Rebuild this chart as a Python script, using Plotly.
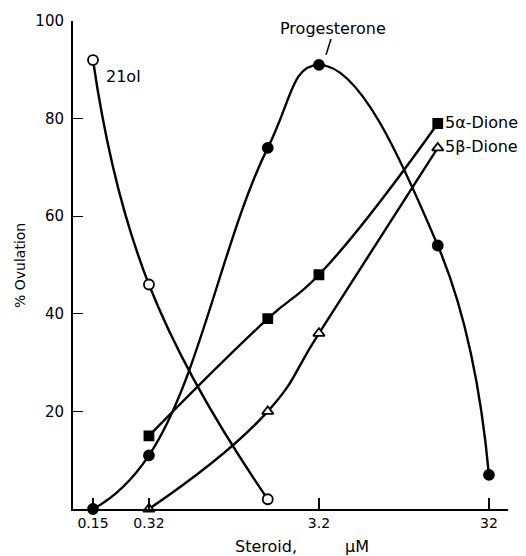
import math
import plotly.graph_objects as go

# ---- data ----
ol21_x = [0.15, 0.32, 1.6]
ol21_y = [92, 46, 2]

prog_x = [0.15, 0.32, 1.6, 3.2, 16, 32]
prog_y = [0, 11, 74, 91, 54, 7]

a_dione_x = [0.32, 1.6, 3.2, 16]
a_dione_y = [15, 39, 48, 79]

b_dione_x = [0.32, 1.6, 3.2, 16]
b_dione_y = [0, 20, 36, 74]

x_ticks = [0.15, 0.32, 3.2, 32]
x_tick_labels = ["0.15", "0.32", "3.2", "32"]
y_ticks = [20, 40, 60, 80, 100]

W, H = 526, 556
L, R, T, B = 73, 18, 19, 47
PW, PH = W - L - R, H - T - B


def px(xp):
    return (xp - L) / PW


def py(yp):
    return (H - B - yp) / PH


FONT = "DejaVu Sans, sans-serif"
LW = 2.4

fig = go.Figure()

def add_series(x, y, symbol, fill, size):
    fig.add_trace(go.Scatter(
        x=x, y=y, mode="lines+markers",
        line=dict(color="black", width=LW, shape="spline", smoothing=1.3),
        marker=dict(symbol=symbol, size=size, color=fill,
                    line=dict(color="black", width=1.8)),
        showlegend=False, cliponaxis=False,
    ))

add_series(ol21_x, ol21_y, "circle", "white", 10)
add_series(prog_x, prog_y, "circle", "black", 10)
add_series(a_dione_x, a_dione_y, "square", "black", 9)
add_series(b_dione_x, b_dione_y, "triangle-up", "white", 10)

annotations = [
    dict(text="21ol", x=px(104), y=py(75), xanchor="left", yanchor="middle",
         font=dict(size=16)),
    dict(text="Progesterone", x=px(333), y=py(27), xanchor="center", yanchor="middle",
         font=dict(size=16)),
    dict(text="5α-Dione", x=px(443), y=py(121), xanchor="left", yanchor="middle",
         font=dict(size=16)),
    dict(text="5β-Dione", x=px(443), y=py(145), xanchor="left", yanchor="middle",
         font=dict(size=16)),
    dict(text="Steroid,", x=px(266), y=py(547), xanchor="center", yanchor="middle",
         font=dict(size=16)),
    dict(text="μM", x=px(357), y=py(547), xanchor="center", yanchor="middle",
         font=dict(size=16)),
    dict(text="% Ovulation", x=px(20), y=py(265), xanchor="center", yanchor="middle",
         textangle=-90, font=dict(size=14)),
]
for a in annotations:
    a.update(xref="paper", yref="paper", showarrow=False)
    a["font"].update(family=FONT, color="black")

shapes = [
    # leader line from Progesterone label to curve
    dict(type="line", xref="paper", yref="paper",
         x0=px(331), y0=py(37), x1=px(326), y1=py(53),
         line=dict(color="black", width=1.5)),
]

xr0 = math.log10(0.15) - 20 / 170
xr1 = xr0 + PW / 170

fig.update_layout(
    width=W, height=H,
    margin=dict(l=L, r=R, t=T, b=B),
    paper_bgcolor="white", plot_bgcolor="white",
    annotations=annotations, shapes=shapes,
    font=dict(family=FONT, size=14, color="black"),
    xaxis=dict(type="log", range=[xr0, xr1], tickvals=x_ticks, ticktext=x_tick_labels,
               ticks="inside", ticklen=11, tickwidth=1.6, tickcolor="black",
               showline=True, linecolor="black", linewidth=2,
               showgrid=False, zeroline=False,
               tickfont=dict(family=FONT, size=14, color="black")),
    yaxis=dict(range=[0, 100], tickvals=y_ticks,
               ticks="inside", ticklen=10, tickwidth=1.4, tickcolor="black",
               showline=True, linecolor="black", linewidth=2,
               showgrid=False, zeroline=False, ticklabelstandoff=4,
               tickfont=dict(family=FONT, size=15, color="black")),
)

fig.write_html("out.html")
